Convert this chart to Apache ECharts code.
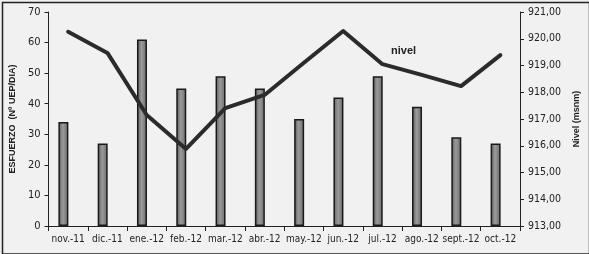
<!DOCTYPE html>
<html><head><meta charset="utf-8">
<script src="https://cdn.jsdelivr.net/npm/echarts@6/dist/echarts.min.js"></script>
<style>html,body{margin:0;padding:0;background:#fff}#c{width:589px;height:254px}</style>
</head><body><div id="c"></div>
<script>
const categories = ['nov.-11','dic.-11','ene.-12','feb.-12','mar.-12','abr.-12','may.-12','jun.-12','jul.-12','ago.-12','sept.-12','oct.-12'];
const esfuerzo = [34, 27, 61, 45, 49, 45, 35, 42, 49, 39, 29, 27];
const nivel = [920.26, 919.47, 917.15, 915.88, 917.41, 917.9, 919.1, 920.29, 919.05, 918.65, 918.23, 919.39];
const leftTicks = [0, 10, 20, 30, 40, 50, 60, 70];
const rightTicks = [913, 914, 915, 916, 917, 918, 919, 920, 921];

const chart = echarts.init(document.getElementById('c'), null, {renderer:'canvas'});
const font = '"DejaVu Sans Condensed", "Liberation Sans Narrow", sans-serif';
const bfont = 'Liberation Sans, Arial, sans-serif';
chart.setOption({
  animation: false,
  backgroundColor: '#f1f1f1',
  grid: {left: 48, right: 69, top: 12, bottom: 28},
  xAxis: {
    type: 'category', data: categories,
    axisLine: {lineStyle: {color: '#222', width: 1}},
    axisTick: {show: true, length: 5, alignWithLabel: false, lineStyle: {color: '#222'}},
    axisLabel: {color: '#222', fontSize: 10, fontFamily: font, margin: 8, interval: 0},
    splitLine: {show: false}
  },
  yAxis: [{
    type: 'value', min: leftTicks[0], max: leftTicks[leftTicks.length-1], interval: 10,
    name: 'ESFUERZO  (Nº UEP/DIA)', nameLocation: 'middle', nameGap: 27, nameRotate: 90,
    nameTextStyle: {fontSize: 9, fontWeight: 'bold', color: '#222', fontFamily: bfont},
    axisLine: {show: true, lineStyle: {color: '#222'}},
    axisTick: {show: true, length: 4, inside: false, lineStyle: {color: '#222'}},
    axisLabel: {color: '#222', fontSize: 11, fontFamily: font, margin: 8},
    splitLine: {show: false}
  }, {
    type: 'value', min: rightTicks[0], max: rightTicks[rightTicks.length-1], interval: 1,
    position: 'right',
    name: 'Nivel (msnm)', nameLocation: 'middle', nameGap: 48, nameRotate: 90,
    nameTextStyle: {fontSize: 9, fontWeight: 'bold', color: '#222', fontFamily: bfont},
    axisLine: {show: true, lineStyle: {color: '#222'}},
    axisTick: {show: true, length: 4, lineStyle: {color: '#222'}},
    axisLabel: {color: '#222', fontSize: 10.5, fontFamily: font, margin: 8,
      formatter: v => v.toFixed(2).replace('.', ',')},
    splitLine: {show: false}
  }],
  series: [{
    type: 'bar', data: esfuerzo, barWidth: 10, barGap: '-5%',
    itemStyle: {
      color: new echarts.graphic.LinearGradient(0, 0, 1, 0, [
        {offset: 0, color: '#5a5a5a'}, {offset: 0.45, color: '#9a9a9a'}, {offset: 1, color: '#6a6a6a'}
      ]),
      borderColor: '#1a1a1a', borderWidth: 1.5
    },
    z: 2
  }, {
    type: 'bar', data: categories.map(() => null), barWidth: 10, silent: true
  }, {
    type: 'line', yAxisIndex: 1, data: nivel, symbol: 'none',
    lineStyle: {color: '#2b2b2b', width: 4, cap: 'round', join: 'round'}, z: 5
  }],
  graphic: [{
    type: 'rect', left: 0, top: 0, z: 100, silent: true,
    shape: {x: 0.75, y: 0.75, width: 587, height: 251.5},
    style: {fill: 'none', stroke: '#222', lineWidth: 1.5}
  }, {
    type: 'text', left: 391, top: 45, z: 100,
    style: {text: 'nivel', fontSize: 11, fontWeight: 'bold', fill: '#222', fontFamily: bfont}
  }]
});
</script></body></html>
